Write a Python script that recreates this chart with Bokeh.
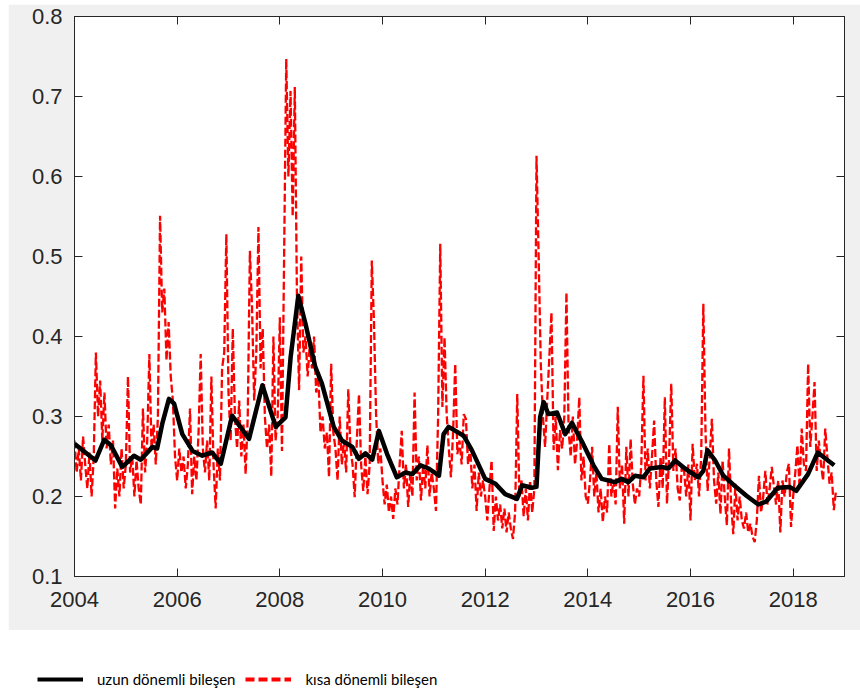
import numpy as np
from bokeh.plotting import figure
from bokeh.models import Range1d, FixedTicker, LinearAxis, Legend, LegendItem
from bokeh.embed import file_html
from bokeh.resources import INLINE

# ---- data ----
x_ticks = [2004, 2006, 2008, 2010, 2012, 2014, 2016, 2018]
x_tick_labels = ["2004", "2006", "2008", "2010", "2012", "2014", "2016", "2018"]
y_ticks = [0.1, 0.2, 0.3, 0.4, 0.5, 0.6, 0.7, 0.8]
y_tick_labels = ["0.1", "0.2", "0.3", "0.4", "0.5", "0.6", "0.7", "0.8"]

# long-term component (uzun dönemli bileşen)
long_years = [2004.0, 2004.41, 2004.58, 2004.71, 2004.93,
              2005.0, 2005.16, 2005.29, 2005.52, 2005.61, 2005.71, 2005.84, 2005.94,
              2006.1, 2006.3, 2006.49, 2006.68, 2006.85,
              2007.07, 2007.4, 2007.66, 2007.92,
              2008.11, 2008.21, 2008.36, 2008.5, 2008.69, 2008.82,
              2009.05, 2009.21, 2009.41, 2009.54, 2009.67, 2009.8, 2009.93,
              2010.09, 2010.28, 2010.45, 2010.58, 2010.74, 2010.9,
              2011.1, 2011.19, 2011.29, 2011.58, 2011.74,
              2012.0, 2012.2, 2012.39, 2012.62, 2012.72, 2012.91,
              2013.0, 2013.07, 2013.14, 2013.23, 2013.4, 2013.56, 2013.69, 2013.89,
              2014.11, 2014.27, 2014.53, 2014.66, 2014.79, 2014.92,
              2015.08, 2015.21, 2015.44, 2015.57, 2015.70, 2015.89,
              2016.15, 2016.25, 2016.33, 2016.48, 2016.64, 2016.83,
              2017.09, 2017.32, 2017.48, 2017.7, 2017.93,
              2018.06, 2018.29, 2018.48, 2018.64, 2018.8]
long_vals = [0.266, 0.245, 0.271, 0.264, 0.237,
             0.241, 0.251, 0.246, 0.262, 0.26, 0.291, 0.322, 0.316,
             0.278, 0.257, 0.251, 0.255, 0.241,
             0.301, 0.272, 0.339, 0.287,
             0.299, 0.374, 0.451, 0.416, 0.362, 0.341,
             0.287, 0.27, 0.262, 0.247, 0.254, 0.246, 0.282,
             0.253, 0.224, 0.23, 0.228, 0.239, 0.235,
             0.226, 0.278, 0.287, 0.276, 0.258,
             0.222, 0.216, 0.203, 0.197, 0.214, 0.211,
             0.212, 0.299, 0.318, 0.303, 0.305, 0.278, 0.292, 0.268,
             0.239, 0.222, 0.218, 0.222, 0.218, 0.226,
             0.224, 0.235, 0.237, 0.235, 0.245, 0.235,
             0.224, 0.232, 0.258, 0.245, 0.226, 0.215,
             0.201, 0.19, 0.194, 0.211, 0.212,
             0.207, 0.228, 0.255, 0.247, 0.239]

# short-term component (kısa dönemli bileşen), half-monthly readings per year
short_2004 = [0.27, 0.23, 0.26, 0.22, 0.275, 0.24, 0.21, 0.255, 0.2, 0.25, 0.38, 0.30,
              0.345, 0.27, 0.33, 0.26, 0.29, 0.24, 0.27, 0.185, 0.235, 0.2, 0.26, 0.21]
short_2005 = [0.24, 0.35, 0.23, 0.25, 0.2, 0.245, 0.21, 0.19, 0.31, 0.23, 0.27, 0.378,
              0.26, 0.29, 0.24, 0.3, 0.551, 0.43, 0.46, 0.37, 0.418, 0.35, 0.32, 0.25]
short_2006 = [0.22, 0.26, 0.23, 0.25, 0.21, 0.24, 0.31, 0.203, 0.25, 0.22, 0.28, 0.378,
              0.26, 0.23, 0.27, 0.22, 0.35, 0.24, 0.185, 0.26, 0.22, 0.36, 0.38, 0.528]
short_2007 = [0.33, 0.27, 0.41, 0.3, 0.26, 0.32, 0.25, 0.29, 0.228, 0.3, 0.507, 0.437,
              0.32, 0.38, 0.537, 0.36, 0.41, 0.3, 0.26, 0.29, 0.225, 0.40, 0.27, 0.3]
short_2008 = [0.424, 0.257, 0.5, 0.747, 0.6, 0.707, 0.55, 0.712, 0.45, 0.333, 0.5, 0.38,
              0.4, 0.35, 0.39, 0.36, 0.4, 0.33, 0.35, 0.28, 0.3, 0.26, 0.28, 0.224]
short_2009 = [0.366, 0.28, 0.26, 0.22, 0.3, 0.24, 0.27, 0.23, 0.334, 0.26, 0.24, 0.199,
              0.27, 0.328, 0.24, 0.207, 0.25, 0.203, 0.24, 0.495, 0.42, 0.303, 0.241, 0.26]
short_2010 = [0.22, 0.19, 0.215, 0.18, 0.2, 0.172, 0.21, 0.19, 0.24, 0.282, 0.21, 0.24,
              0.187, 0.23, 0.2, 0.33, 0.22, 0.25, 0.195, 0.24, 0.21, 0.264, 0.2, 0.23]
short_2011 = [0.21, 0.182, 0.3, 0.516, 0.312, 0.399, 0.303, 0.26, 0.224, 0.28, 0.366, 0.253,
              0.27, 0.24, 0.303, 0.297, 0.24, 0.262, 0.21, 0.24, 0.182, 0.23, 0.2, 0.22]
short_2012 = [0.2, 0.17, 0.21, 0.245, 0.157, 0.2, 0.17, 0.19, 0.16, 0.185, 0.155, 0.18,
              0.16, 0.147, 0.18, 0.328, 0.2, 0.22, 0.175, 0.21, 0.17, 0.22, 0.18, 0.21]
short_2013 = [0.626, 0.5, 0.366, 0.3, 0.262, 0.32, 0.374, 0.43, 0.258, 0.3, 0.233, 0.283,
              0.26, 0.3, 0.455, 0.283, 0.25, 0.3, 0.24, 0.27, 0.324, 0.22, 0.25, 0.2]
short_2014 = [0.191, 0.22, 0.262, 0.2, 0.23, 0.18, 0.21, 0.168, 0.2, 0.18, 0.266, 0.2,
              0.22, 0.19, 0.312, 0.21, 0.24, 0.166, 0.262, 0.2, 0.272, 0.216, 0.19, 0.21]
short_2015 = [0.2, 0.24, 0.351, 0.22, 0.26, 0.21, 0.25, 0.295, 0.22, 0.187, 0.25, 0.21,
              0.324, 0.191, 0.25, 0.341, 0.232, 0.26, 0.21, 0.195, 0.24, 0.232, 0.2, 0.24]
short_2016 = [0.17, 0.266, 0.22, 0.241, 0.2, 0.25, 0.441, 0.282, 0.207, 0.25, 0.297, 0.22,
              0.191, 0.23, 0.178, 0.245, 0.2, 0.164, 0.26, 0.19, 0.153, 0.216, 0.17, 0.2]
short_2017 = [0.17, 0.16, 0.18, 0.155, 0.166, 0.15, 0.143, 0.17, 0.226, 0.18, 0.2, 0.232,
              0.19, 0.21, 0.237, 0.212, 0.19, 0.22, 0.155, 0.22, 0.2, 0.23, 0.241, 0.162]
short_2018 = [0.2, 0.23, 0.264, 0.21, 0.285, 0.24, 0.232, 0.366, 0.262, 0.3, 0.343, 0.232,
              0.27, 0.24, 0.22, 0.285, 0.249, 0.216, 0.23, 0.183, 0.207]

short_vals = (short_2004 + short_2005 + short_2006 + short_2007 + short_2008 +
              short_2009 + short_2010 + short_2011 + short_2012 + short_2013 +
              short_2014 + short_2015 + short_2016 + short_2017 + short_2018)
short_years = 2004 + np.arange(len(short_vals)) / 24.0

label_long = "uzun dönemli bileşen"
label_short = "kısa dönemli bileşen"

AX = "#262626"
FONT = "Liberation Sans"

p = figure(width=852, height=626, output_backend="svg", toolbar_location=None,
           x_range=Range1d(2004, 2019), y_range=Range1d(0.1, 0.8),
           min_border_left=66, min_border_right=16, min_border_top=12, min_border_bottom=54,
           background_fill_color="white", border_fill_color="#f0f0f0",
           outline_line_color=AX, x_axis_location="below", y_axis_location="left")
p.margin = (4, 0, 0, 8)
p.grid.visible = False

p.line(short_years, short_vals, line_color="#ff0000", line_width=2.3, line_dash="8 3")
p.line(long_years, long_vals, line_color="black", line_width=4.5, line_join="round")

def style_axis(ax, ticks, labels, show_labels):
    ax.ticker = FixedTicker(ticks=ticks)
    ax.major_label_overrides = {t: l for t, l in zip(ticks, labels)}
    ax.minor_tick_line_color = None
    ax.major_tick_in = 8
    ax.major_tick_out = 0
    ax.axis_line_color = AX
    ax.major_tick_line_color = AX
    if show_labels:
        ax.major_label_text_font = FONT
        ax.major_label_text_font_size = "22px"
        ax.major_label_text_color = AX
    else:
        ax.major_label_text_font_size = "0px"
        ax.major_label_standoff = 0

style_axis(p.xaxis[0], x_ticks, x_tick_labels, True)
style_axis(p.yaxis[0], y_ticks, y_tick_labels, True)
p.xaxis[0].major_label_standoff = 15
p.yaxis[0].major_label_standoff = 12

top_ax = LinearAxis()
right_ax = LinearAxis()
style_axis(top_ax, x_ticks, ["" for _ in x_ticks], False)
style_axis(right_ax, y_ticks, ["" for _ in y_ticks], False)
p.add_layout(top_ax, "above")
p.add_layout(right_ax, "right")

# legend panel below the grey figure area (white), a separate root
lf = figure(width=852, height=62, output_backend="svg", toolbar_location=None,
            x_range=Range1d(0, 1), y_range=Range1d(0, 1), min_border=0,
            outline_line_color=None, background_fill_color="white",
            border_fill_color="white")
lf.margin = (0, 0, 0, 8)
lf.axis.visible = False
lf.grid.visible = False
nan = float("nan")
r1 = lf.line(x=[nan], y=[nan], line_color="black", line_width=4)
r2 = lf.line(x=[nan], y=[nan], line_color="#ff0000", line_width=4, line_dash="9 4")
leg = Legend(items=[LegendItem(label=label_long, renderers=[r1]),
                    LegendItem(label=label_short, renderers=[r2])],
             orientation="horizontal", location=(29, 3),
             glyph_width=46, glyph_height=20, label_standoff=14, spacing=10,
             padding=0, margin=0, border_line_color=None, background_fill_alpha=0,
             label_text_font="Lato", label_text_font_size="15px",
             label_text_color="black")
lf.add_layout(leg)

open("out.html", "w").write(file_html([p, lf], INLINE))
